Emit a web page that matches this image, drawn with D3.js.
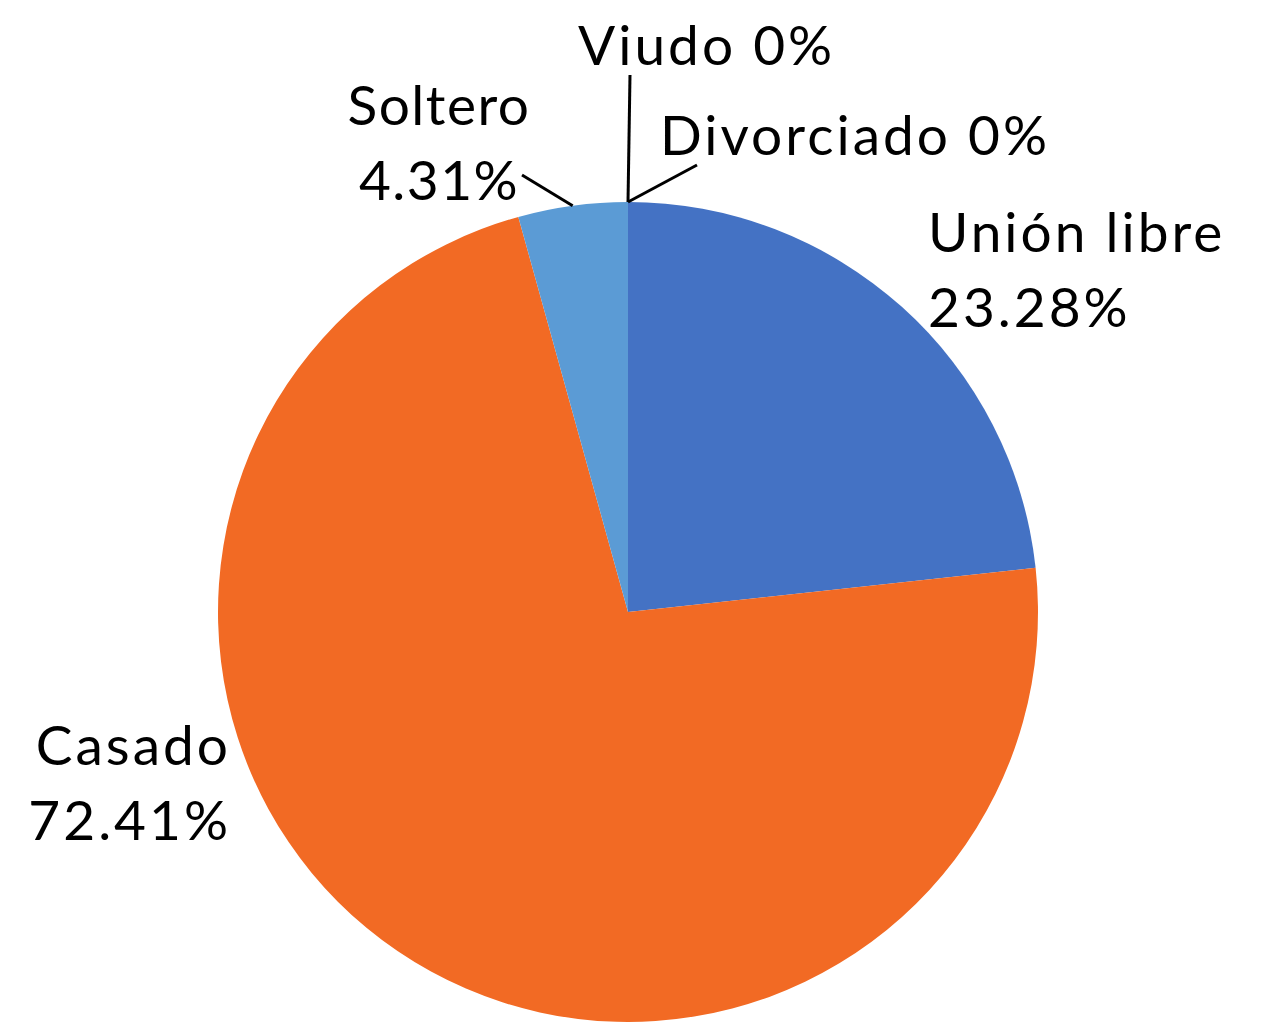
<!DOCTYPE html>
<html>
<head>
<meta charset="utf-8">
<script src="https://cdn.jsdelivr.net/npm/d3@7"></script>
<style>
  body { margin: 0; background: #fff; }
  text { font-family: Lato, "Open Sans", sans-serif; fill: #000; }
</style>
</head>
<body>
<script>
var categorias = ["Unión libre", "Casado", "Soltero", "Viudo", "Divorciado"];
var porcentajes = [23.28, 72.41, 4.31, 0, 0];
var etiquetas = ["23.28%", "72.41%", "4.31%", "0%", "0%"];
var colores = ["#4472C4", "#F26A24", "#5B9BD5", "#A5A5A5", "#FFC000"];

var width = 1261, height = 1024;
var centro = { x: 628, y: 612 }, rayo = 410;

// label placement (relative to chart centre), one per category
var posEtiquetas = {
  "Unión libre": { x: 300, y: -360, anchor: "start", lineas: 2 },
  "Casado": { x: -397, y: 153, anchor: "end", lineas: 2 },
  "Soltero": { x: -189, y: -487, anchor: "middle", lineas: 2 },
  "Viudo": { x: -50, y: -547, anchor: "start", lineas: 1 },
  "Divorciado": { x: 32, y: -457, anchor: "start", lineas: 1 }
};
// leader line end points (relative to centre)
var lideres = {
  "Soltero": { x: -106, y: -437 },
  "Viudo": { x: 2, y: -537 },
  "Divorciado": { x: 69, y: -447 }
};

var svg = d3.select("body").append("svg")
  .attr("width", width)
  .attr("height", height);

var g = svg.append("g")
  .attr("transform", "translate(" + centro.x + "," + centro.y + ")");

var datos = categorias.map(function(c, i) {
  return { nom: c, val: porcentajes[i], etiqueta: etiquetas[i], color: colores[i] };
});

var pie = d3.pie().sort(null).value(d => d.val);
var arc = d3.arc().innerRadius(0).outerRadius(rayo);
var arcos = pie(datos);

g.selectAll("path.tranche").data(arcos).enter()
  .append("path")
  .attr("class", "tranche")
  .attr("d", arc)
  .attr("fill", d => d.data.color);

// leader lines
g.selectAll("line.lider").data(arcos.filter(d => lideres[d.data.nom])).enter()
  .append("line")
  .attr("class", "lider")
  .attr("x1", function(d) {
    var a = (d.startAngle + d.endAngle) / 2;
    return rayo * Math.sin(a);
  })
  .attr("y1", function(d) {
    var a = (d.startAngle + d.endAngle) / 2;
    return -rayo * Math.cos(a);
  })
  .attr("x2", d => lideres[d.data.nom].x)
  .attr("y2", d => lideres[d.data.nom].y)
  .attr("stroke", "#000")
  .attr("stroke-width", 3);

var fs = 55;
var textes = g.selectAll("text.etiq").data(arcos).enter()
  .append("text")
  .attr("class", "etiq")
  .attr("font-size", fs)
  .attr("letter-spacing", d => d.data.nom === "Soltero" ? 1.5 : 3)
  .attr("text-anchor", d => posEtiquetas[d.data.nom].anchor)
  .attr("transform", d => "translate(" + posEtiquetas[d.data.nom].x + "," + posEtiquetas[d.data.nom].y + ")");

textes.each(function(d) {
  var t = d3.select(this);
  var p = posEtiquetas[d.data.nom];
  if (p.lineas === 1) {
    t.append("tspan").attr("x", 0).attr("y", 0).text(d.data.nom + " " + d.data.etiqueta);
  } else {
    t.append("tspan").attr("x", 0).attr("y", 0).text(d.data.nom);
    t.append("tspan").attr("x", 0).attr("y", 75).text(d.data.etiqueta);
  }
});
</script>
</body>
</html>
